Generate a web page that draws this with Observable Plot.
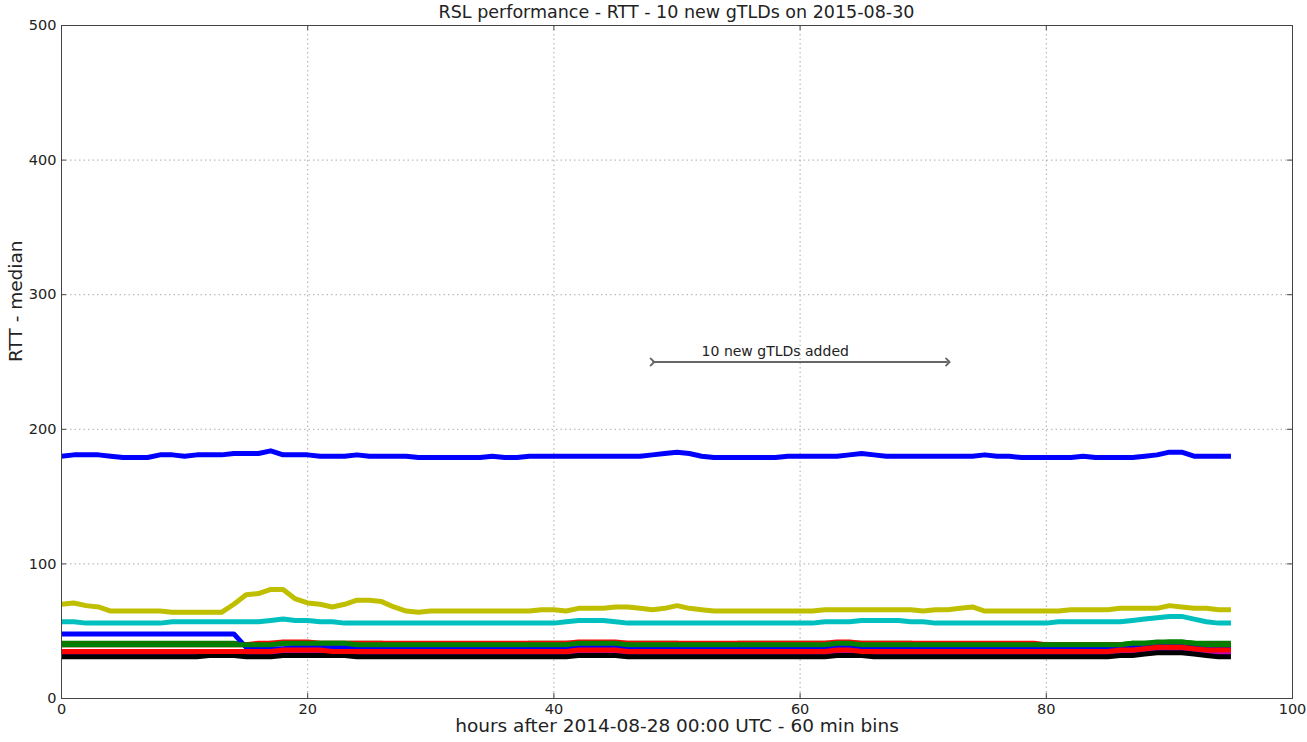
<!DOCTYPE html>
<html>
<head>
<meta charset="utf-8">
<script src="https://cdn.jsdelivr.net/npm/d3@7"></script>
<script src="https://cdn.jsdelivr.net/npm/@observablehq/plot@0.6"></script>
<style>
  html, body { margin: 0; padding: 0; background: #fff; }
  #wrap { position: relative; width: 1307px; height: 742px; font-family: "DejaVu Sans", sans-serif; }
  #title { position: absolute; top: 1px; left: 61px; width: 1231px; text-align: center; font-size: 17.5px; color: #222; line-height: 22px; }
</style>
</head>
<body>
<div id="wrap">
  <div id="title">RSL performance - RTT - 10 new gTLDs on 2015-08-30</div>
  <div id="chart"></div>
</div>
<script>
const hours = d3.range(96);

const blue1 = [180,181,181,181,180,179,179,179,181,181, 180,181,181,181,182,182,182,184,181,181, 181,180,180,180,181,180,180,180,180,179, 179,179,179,179,179,180,179,179,180,180, 180,180,180,180,180,180,180,180,181,182, 183,182,180,179,179,179,179,179,179,180, 180,180,180,180,181,182,181,180,180,180, 180,180,180,180,180,181,180,180,179,179, 179,179,179,180,179,179,179,179,180,181, 183,183,180,180,180,180];
const green1 = [41,41,41,41,41,41,41,41,41,41, 41,41,41,41,41,40,40,41,41,41, 41,41,41,41,41,41,41,40,40,40, 40,40,40,40,40,40,40,40,41,41, 41,41,41,41,41,41,41,41,41,41, 41,40,40,40,40,41,41,41,41,41, 41,41,41,41,41,41,41,41,41,41, 40,40,40,40,40,40,40,40,40,40, 40,40,40,40,40,40,40,41,41,41, 42,42,41,41,41,41];
const red1 = [40,40,40,40,40,40,40,40,40,40, 40,40,40,40,40,40,41,41,42,42, 42,41,41,41,41,41,41,41,41,41, 41,41,41,41,41,41,41,41,41,41, 41,41,42,42,42,42,41,41,41,41, 41,41,41,41,41,41,41,41,41,41, 41,41,41,42,42,41,41,41,41,41, 41,41,41,41,41,41,41,41,41,41, 40,40,40,40,40,40,40,40,40,40, 41,41,40,40,40,40];
const cyan = [57,57,56,56,56,56,56,56,56,57, 57,57,57,57,57,57,57,58,59,58, 58,57,57,56,56,56,56,56,56,56, 56,56,56,56,56,56,56,56,56,56, 56,57,58,58,58,57,56,56,56,56, 56,56,56,56,56,56,56,56,56,56, 56,56,57,57,57,58,58,58,58,57, 57,56,56,56,56,56,56,56,56,56, 56,57,57,57,57,57,57,58,59,60, 61,61,59,57,56,56];
const magenta = [33,33,33,33,33,33,33,33,33,33, 33,33,34,34,33,33,33,33,33,34, 34,34,33,33,33,33,33,33,33,33, 33,33,33,33,33,33,33,33,33,33, 33,33,34,34,34,34,33,33,33,33, 33,33,33,33,33,33,33,33,33,33, 33,33,33,34,34,33,33,33,33,33, 33,33,33,33,33,33,33,33,33,33, 33,33,33,33,33,33,33,34,35,36, 36,36,35,34,34,34];
const yellow = [70,71,69,68,65,65,65,65,65,64, 64,64,64,64,70,77,78,81,81,74, 71,70,68,70,73,73,72,68,65,64, 65,65,65,65,65,65,65,65,65,66, 66,65,67,67,67,68,68,67,66,67, 69,67,66,65,65,65,65,65,65,65, 65,65,66,66,66,66,66,66,66,66, 65,66,66,67,68,65,65,65,65,65, 65,65,66,66,66,66,67,67,67,67, 69,68,67,67,66,66];
const black = [31,31,31,31,31,31,31,31,31,31, 31,31,32,32,32,31,31,31,32,32, 32,32,32,32,31,31,31,31,31,31, 31,31,31,31,31,31,31,31,31,31, 31,31,32,32,32,32,31,31,31,31, 31,31,31,31,31,31,31,31,31,31, 31,31,31,32,32,32,31,31,31,31, 31,31,31,31,31,31,31,31,31,31, 31,31,31,31,31,31,32,32,33,34, 34,34,33,32,31,31];
const blue2 = [48,48,48,48,48,48,48,48,48,48, 48,48,48,48,48,38,37,37,37,38, 38,38,38,38,38,38,38,38,37,37, 37,37,37,37,37,37,37,37,37,38, 38,38,38,38,38,38,38,38,38,38, 38,37,37,37,37,37,37,37,37,37, 37,37,38,38,38,38,38,38,38,38, 37,37,37,37,37,37,37,37,37,37, 37,37,37,37,37,37,38,38,39,41, 41,41,39,38,38,38];
const green2 = [40,40,40,40,40,40,40,40,40,40, 40,40,40,40,40,40,40,40,41,41, 41,41,41,41,40,40,40,40,40,40, 40,40,40,40,40,40,40,40,40,40, 40,40,41,41,41,41,40,40,40,40, 40,40,40,40,40,40,40,40,40,40, 40,40,40,41,41,40,40,40,40,40, 40,40,40,40,40,40,40,40,40,40, 40,40,40,40,40,40,40,41,41,42, 42,42,41,40,40,40];
const red2 = [35,35,35,35,35,35,35,35,35,35, 35,35,35,35,35,35,35,35,36,36, 36,36,35,35,35,35,35,35,35,35, 35,35,35,35,35,35,35,35,35,35, 35,35,36,36,36,36,35,35,35,35, 35,35,35,35,35,35,35,35,35,35, 35,35,35,36,36,35,35,35,35,35, 35,35,35,35,35,35,35,35,35,35, 35,35,35,35,35,35,36,36,37,38, 38,38,37,36,36,36];

const seriesValues = [blue1, green1, red1, cyan, magenta, yellow, black, blue2, green2, red2];
const seriesColors = ["#0000ff", "#008000", "#ff0000", "#00bfbf", "#bf00bf", "#bfbf00", "#000000", "#0000ff", "#008000", "#ff0000"];

const xTicks = [0, 20, 40, 60, 80, 100];
const yTicks = [0, 100, 200, 300, 400, 500];
const xGrid = [20, 40, 60, 80];
const yGrid = [100, 200, 300, 400];

const annotation = [{x1: 48, x2: 72, y: 250}];
const annotationText = [{x: 52, y: 258, text: "10 new gTLDs added"}];

const lineMarks = seriesValues.map((vals, i) =>
  Plot.line(hours.map((h, j) => ({h, v: vals[j]})), {
    x: "h", y: "v", stroke: seriesColors[i], strokeWidth: 5, strokeLinejoin: "round", strokeLinecap: "butt"
  })
);

const chart = Plot.plot({
  width: 1307,
  height: 742,
  marginTop: 25,
  marginBottom: 44,
  marginLeft: 61,
  marginRight: 15,
  style: {fontFamily: "DejaVu Sans, sans-serif", color: "#222", background: "#fff"},
  x: {domain: [0, 100]},
  y: {domain: [0, 500]},
  marks: [
    Plot.gridX(xGrid, {stroke: "#aaa", strokeOpacity: 1, strokeDasharray: "1.5,3"}),
    Plot.gridY(yGrid, {stroke: "#aaa", strokeOpacity: 1, strokeDasharray: "1.5,3"}),
    Plot.axisX(xTicks, {tickSize: 0, tickPadding: 5, fontSize: 14.5, label: null, fill: "#222"}),
    Plot.axisY(yTicks, {tickSize: 0, tickPadding: 5, fontSize: 14.5, label: null, fill: "#222"}),
    Plot.ruleX(xTicks, {y1: 0, y2: 3.8, stroke: "#444"}),
    Plot.ruleX(xTicks, {y1: 496.2, y2: 500, stroke: "#444"}),
    Plot.ruleY(yTicks, {x1: 0, x2: 0.4, stroke: "#444"}),
    Plot.ruleY(yTicks, {x1: 99.6, x2: 100, stroke: "#444"}),
    ...lineMarks,
    Plot.link(annotation, {x1: "x1", x2: "x2", y1: "y", y2: "y", stroke: "#666", strokeWidth: 1.8, markerStart: "arrow", markerEnd: "arrow"}),
    Plot.text(annotationText, {x: "x", y: "y", text: "text", textAnchor: "start", fontSize: 14, fill: "#222"}),
    Plot.text(["hours after 2014-08-28 00:00 UTC - 60 min bins"], {frameAnchor: "bottom", dy: 33, fontSize: 18.5, fill: "#222"}),
    Plot.text(["RTT - median"], {frameAnchor: "left", dx: -45, rotate: -90, fontSize: 18.5, fill: "#222"}),
    Plot.frame({stroke: "#444", strokeWidth: 1})
  ]
});
document.getElementById("chart").appendChild(chart);
</script>
</body>
</html>
